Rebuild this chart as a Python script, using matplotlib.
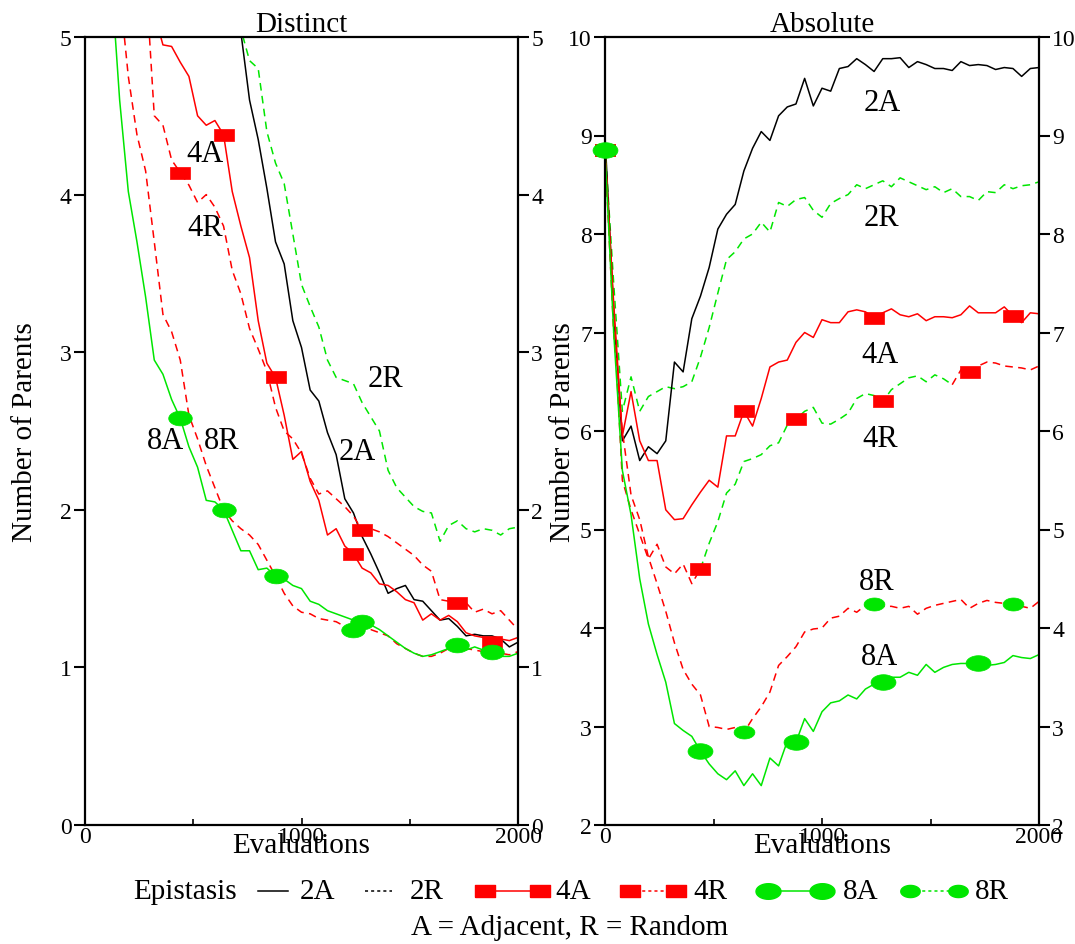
import numpy as np
import matplotlib
matplotlib.use("Agg")
import matplotlib.pyplot as plt
from matplotlib.lines import Line2D

plt.rcParams['font.family'] = ['Liberation Serif', 'DejaVu Serif']
plt.rcParams['font.size'] = 21

RED = '#ff0000'
GREEN = '#00e600'
BLACK = '#000000'

# evaluations grid (every 40 evaluations)
evals = np.arange(0, 2001, 40)

# ---- Distinct (left panel) ----
dist_2a = [9.0, 8.9, 8.8, 8.6, 8.4, 8.2, 8.0, 7.7, 7.4, 7.1,
           6.8, 6.5, 6.2, 5.9, 5.7, 5.5, 5.3, 5.15, 5.03, 4.6,
           4.35, 4.04, 3.7, 3.56, 3.2, 3.03, 2.76, 2.69, 2.49, 2.35,
           2.07, 1.98, 1.83, 1.72, 1.6, 1.47, 1.5, 1.52, 1.43, 1.42,
           1.36, 1.3, 1.31, 1.26, 1.2, 1.21, 1.2, 1.2, 1.18, 1.13, 1.16]
dist_2r = [9.2, 9.1, 9.0, 8.8, 8.6, 8.4, 8.2, 7.9, 7.6, 7.3,
           7.0, 6.7, 6.4, 6.1, 5.85, 5.6, 5.4, 5.2, 5.05, 4.85,
           4.8, 4.4, 4.2, 4.07, 3.75, 3.43, 3.29, 3.16, 2.95, 2.84,
           2.82, 2.8, 2.68, 2.59, 2.5, 2.25, 2.14, 2.08, 2.02, 1.99,
           1.98, 1.8, 1.9, 1.93, 1.88, 1.86, 1.88, 1.87, 1.84, 1.88, 1.89]
dist_4a = [9.0, 8.5, 8.0, 7.5, 7.0, 6.5, 6.0, 5.6, 5.15, 4.95,
           4.94, 4.84, 4.75, 4.5, 4.44, 4.47, 4.38, 4.02, 3.8, 3.6,
           3.2, 2.93, 2.84, 2.6, 2.32, 2.37, 2.18, 2.06, 1.84, 1.88,
           1.77, 1.72, 1.63, 1.6, 1.53, 1.52, 1.48, 1.43, 1.41, 1.3,
           1.34, 1.3, 1.33, 1.29, 1.22, 1.2, 1.19, 1.16, 1.18, 1.17, 1.19]
dist_4r = [9.0, 8.5, 7.9, 7.3, 6.8, 6.3, 5.8, 5.4, 4.5, 4.44,
           4.22, 4.14, 4.06, 3.95, 4.0, 3.92, 3.8, 3.52, 3.37, 3.15,
           3.02, 2.88, 2.65, 2.5, 2.45, 2.36, 2.2, 2.1, 2.12, 2.07,
           2.02, 1.96, 1.87, 1.88, 1.86, 1.83, 1.79, 1.75, 1.71, 1.65,
           1.61, 1.43, 1.42, 1.41, 1.41, 1.35, 1.37, 1.34, 1.36, 1.3, 1.24]
dist_8a = [9.0, 8.0, 6.5, 5.4, 4.6, 4.02, 3.7, 3.35, 2.95, 2.86,
           2.7, 2.58, 2.4, 2.27, 2.06, 2.05, 2.0, 1.87, 1.74, 1.74,
           1.62, 1.63, 1.58, 1.56, 1.52, 1.5, 1.42, 1.4, 1.36, 1.34,
           1.32, 1.3, 1.29, 1.27, 1.24, 1.2, 1.16, 1.12, 1.09, 1.07,
           1.08, 1.1, 1.12, 1.13, 1.11, 1.13, 1.11, 1.1, 1.07, 1.07, 1.09]
dist_8r = [9.2, 8.0, 6.8, 5.9, 5.3, 4.75, 4.38, 4.15, 3.7, 3.24,
           3.13, 2.95, 2.6, 2.45, 2.28, 2.14, 2.0, 1.93, 1.88, 1.84,
           1.78, 1.68, 1.58, 1.47, 1.39, 1.35, 1.34, 1.31, 1.3, 1.29,
           1.26, 1.24, 1.24, 1.24, 1.22, 1.2, 1.15, 1.12, 1.09, 1.07,
           1.07, 1.09, 1.12, 1.14, 1.12, 1.11, 1.1, 1.1, 1.09, 1.08, 1.1]

# ---- Absolute (right panel) ----
abs_2a = [9.0, 7.2, 5.9, 6.05, 5.7, 5.84, 5.77, 5.9, 6.7, 6.6,
          7.14, 7.37, 7.66, 8.05, 8.2, 8.3, 8.64, 8.87, 9.04, 8.95,
          9.2, 9.29, 9.32, 9.58, 9.3, 9.48, 9.45, 9.68, 9.7, 9.78,
          9.72, 9.65, 9.78, 9.78, 9.79, 9.69, 9.75, 9.72, 9.68, 9.68,
          9.66, 9.75, 9.71, 9.72, 9.71, 9.67, 9.69, 9.68, 9.6, 9.68, 9.69]
abs_2r = [8.9, 7.5, 6.2, 6.55, 6.2, 6.35, 6.4, 6.45, 6.43, 6.45,
          6.5, 6.75, 7.05, 7.4, 7.74, 7.82, 7.95, 8.0, 8.12, 8.02,
          8.32, 8.28, 8.35, 8.37, 8.24, 8.17, 8.31, 8.36, 8.4, 8.5,
          8.46, 8.5, 8.54, 8.48, 8.57, 8.53, 8.49, 8.45, 8.48, 8.42,
          8.46, 8.38, 8.38, 8.34, 8.43, 8.42, 8.5, 8.46, 8.49, 8.5, 8.53]
abs_4a = [8.85, 7.3, 5.95, 6.4, 5.9, 5.7, 5.7, 5.2, 5.1, 5.11,
          5.25, 5.38, 5.5, 5.43, 5.95, 5.95, 6.2, 6.05, 6.33, 6.65,
          6.7, 6.72, 6.9, 7.0, 6.95, 7.13, 7.1, 7.1, 7.21, 7.23,
          7.21, 7.15, 7.2, 7.24, 7.18, 7.16, 7.19, 7.12, 7.16, 7.16,
          7.15, 7.18, 7.27, 7.2, 7.2, 7.2, 7.26, 7.17, 7.1, 7.2, 7.19]
abs_4r = [8.85, 7.2, 5.5, 5.2, 4.95, 4.7, 4.85, 4.62, 4.55, 4.65,
          4.45, 4.6, 4.86, 5.08, 5.37, 5.46, 5.69, 5.72, 5.76, 5.85,
          5.88, 6.06, 6.12, 6.2, 6.24, 6.08, 6.07, 6.12, 6.18, 6.33,
          6.38, 6.36, 6.3, 6.42, 6.48, 6.54, 6.56, 6.5, 6.57, 6.53,
          6.47, 6.62, 6.6, 6.66, 6.7, 6.69, 6.66, 6.65, 6.64, 6.62, 6.66]
abs_8a = [8.85, 7.0, 5.6, 5.15, 4.5, 4.04, 3.73, 3.45, 3.03, 2.96,
          2.9, 2.75, 2.62, 2.52, 2.46, 2.55, 2.4, 2.52, 2.4, 2.68,
          2.6, 2.85, 2.84, 3.08, 2.95, 3.15, 3.24, 3.26, 3.32, 3.28,
          3.38, 3.43, 3.45, 3.5, 3.5, 3.55, 3.52, 3.63, 3.55, 3.6,
          3.63, 3.64, 3.64, 3.64, 3.62, 3.63, 3.65, 3.72, 3.7, 3.69, 3.73]
abs_8r = [8.85, 7.0, 6.0, 5.35, 5.1, 4.72, 4.45, 4.17, 3.85, 3.58,
          3.43, 3.32, 3.0, 2.99, 2.97, 2.99, 2.94, 3.08, 3.2, 3.35,
          3.62, 3.71, 3.81, 3.96, 3.99, 4.0, 4.1, 4.12, 4.2, 4.16,
          4.23, 4.24, 4.22, 4.22, 4.2, 4.22, 4.14, 4.2, 4.23, 4.25,
          4.27, 4.29, 4.2, 4.25, 4.28, 4.26, 4.25, 4.24, 4.22, 4.2, 4.27]

# marker positions (indices into evals)
dist_marks = {'4A': [16, 22, 31, 47], '4R': [11, 32, 43],
              '8A': [11, 16, 22, 32, 47], '8R': [31, 43]}
abs_marks = {'4A': [0, 16, 31, 47], '4R': [0, 11, 22, 32, 42],
             '8A': [0, 11, 22, 32, 43], '8R': [16, 31, 47]}

# curve labels (label, x, y)
dist_labels = [('4A', 554, 4.26), ('4R', 554, 3.79), ('2R', 1390, 2.83),
               ('2A', 1256, 2.37), ('8A', 370, 2.44), ('8R', 633, 2.44)]
abs_labels = [('2A', 1276, 9.34), ('2R', 1276, 8.17), ('4A', 1267, 6.78),
              ('4R', 1267, 5.92), ('8R', 1253, 4.47), ('8A', 1267, 3.71)]

# custom marker shapes: flat rectangle and ellipse
RECT = [(-1.6, -1), (1.6, -1), (1.6, 1), (-1.6, 1), (-1.6, -1)]
_t = np.linspace(0, 2 * np.pi, 41)
ELLIPSE = list(zip(1.6 * np.cos(_t), np.sin(_t)))

DASH = (0, (5, 3.5))
DOT = (0, (2, 2))
LW = 1.1
W, H = 1075, 945


def draw_marks(ax, y, idx, kind, size):
    x = evals[idx]
    yy = np.asarray(y)[idx]
    col = RED if kind == 'rect' else GREEN
    shape = RECT if kind == 'rect' else ELLIPSE
    ax.plot(x, yy, ls='none', marker=shape, ms=size, mfc=col, mec=col,
            mew=0.5, clip_on=False, zorder=5)


def style_axes(ax, ylim, yticks):
    ax.set_xlim(0, 2000)
    ax.set_ylim(*ylim)
    ax.set_yticks(yticks)
    ax.set_xticks([0, 1000, 2000])
    ax.set_xticks([500, 1500], minor=True)
    ax.tick_params(axis='y', which='major', left=True, right=True,
                   labelleft=True, labelright=True, direction='out',
                   length=8, width=1.5, labelsize=17, pad=1.5)
    ax.tick_params(axis='x', which='major', direction='in', length=5,
                   width=1.2, labelsize=17, pad=1)
    ax.tick_params(axis='x', which='minor', direction='in', length=4,
                   width=1.2)
    for sp in ax.spines.values():
        sp.set_linewidth(1.6)
    ax.set_xlabel('Evaluations', fontsize=21, labelpad=-11)
    ax.set_ylabel('Number of Parents', fontsize=21)


fig = plt.figure(figsize=(W / 100, H / 100), dpi=100)
ax1 = fig.add_axes([85 / W, 119 / H, 433 / W, 788 / H])
ax2 = fig.add_axes([605 / W, 119 / H, 434 / W, 788 / H])

# left panel
ax1.plot(evals, dist_2r, color=GREEN, ls=DASH, lw=LW)
ax1.plot(evals, dist_2a, color=BLACK, lw=LW)
ax1.plot(evals, dist_4r, color=RED, ls=DASH, lw=LW)
ax1.plot(evals, dist_8r, color=RED, ls=DASH, lw=LW)
ax1.plot(evals, dist_4a, color=RED, lw=LW)
ax1.plot(evals, dist_8a, color=GREEN, lw=LW)
draw_marks(ax1, dist_4a, dist_marks['4A'], 'rect', 14)
draw_marks(ax1, dist_4r, dist_marks['4R'], 'rect', 14)
draw_marks(ax1, dist_8a, dist_marks['8A'], 'ellipse', 17)
draw_marks(ax1, dist_8r, dist_marks['8R'], 'ellipse', 17)
for lab, x, y in dist_labels:
    ax1.text(x, y, lab, fontsize=22, ha='center', va='center', zorder=6)
style_axes(ax1, (0, 5), range(0, 6))
ax1.set_title('Distinct', fontsize=21, pad=4)
ax1.yaxis.set_label_coords(-0.108, 0.5)

# right panel
ax2.plot(evals, abs_2r, color=GREEN, ls=DASH, lw=LW)
ax2.plot(evals, abs_2a, color=BLACK, lw=LW)
ax2.plot(evals[:12], abs_4r[:12], color=RED, ls=DASH, lw=LW)
ax2.plot(evals[11:41], abs_4r[11:41], color=GREEN, ls=DASH, lw=LW)
ax2.plot(evals[40:], abs_4r[40:], color=RED, ls=DASH, lw=LW)
ax2.plot(evals, abs_8r, color=RED, ls=DASH, lw=LW)
ax2.plot(evals, abs_4a, color=RED, lw=LW)
ax2.plot(evals, abs_8a, color=GREEN, lw=LW)
draw_marks(ax2, abs_4a, abs_marks['4A'], 'rect', 14)
draw_marks(ax2, abs_4r, abs_marks['4R'], 'rect', 14)
draw_marks(ax2, abs_8a, abs_marks['8A'], 'ellipse', 18)
draw_marks(ax2, abs_8r, abs_marks['8R'], 'ellipse', 15)
for lab, x, y in abs_labels:
    ax2.text(x, y, lab, fontsize=22, ha='center', va='center', zorder=6)
style_axes(ax2, (2, 10), range(2, 11))
ax2.set_title('Absolute', fontsize=21, pad=4)
ax2.yaxis.set_label_coords(-0.067, 0.5)

# legend, laid out by hand in pixel positions
ly = 1 - 892 / H
fig.text(133 / W, ly, 'Epistasis', fontsize=21, ha='left', va='center')
legend_items = [
    # label, line start, line end, text x, colour, style, marker, size
    ('2A', 258, 288, 300, BLACK, '-', None, 0),
    ('2R', 365, 392, 410, BLACK, DOT, None, 0),
    ('4A', 485, 540, 555, RED, '-', RECT, 14),
    ('4R', 630, 676, 693, RED, DOT, RECT, 14),
    ('8A', 768, 822, 843, GREEN, '-', ELLIPSE, 18),
    ('8R', 910, 958, 975, GREEN, DOT, ELLIPSE, 14),
]
for lab, x0, x1, tx, col, ls, mk, ms in legend_items:
    ln = Line2D([x0 / W, x1 / W], [ly, ly], transform=fig.transFigure,
                color=col, lw=LW, ls=ls)
    if mk is not None:
        ln.set_marker(mk)
        ln.set_markersize(ms)
        ln.set_markerfacecolor(col)
        ln.set_markeredgecolor(col)
    fig.add_artist(ln)
    fig.text(tx / W, ly, lab, fontsize=21, ha='left', va='center')
fig.text(0.53, 0.018, 'A = Adjacent, R = Random', fontsize=21,
         ha='center', va='center')

fig.savefig('out.png', dpi=100)
